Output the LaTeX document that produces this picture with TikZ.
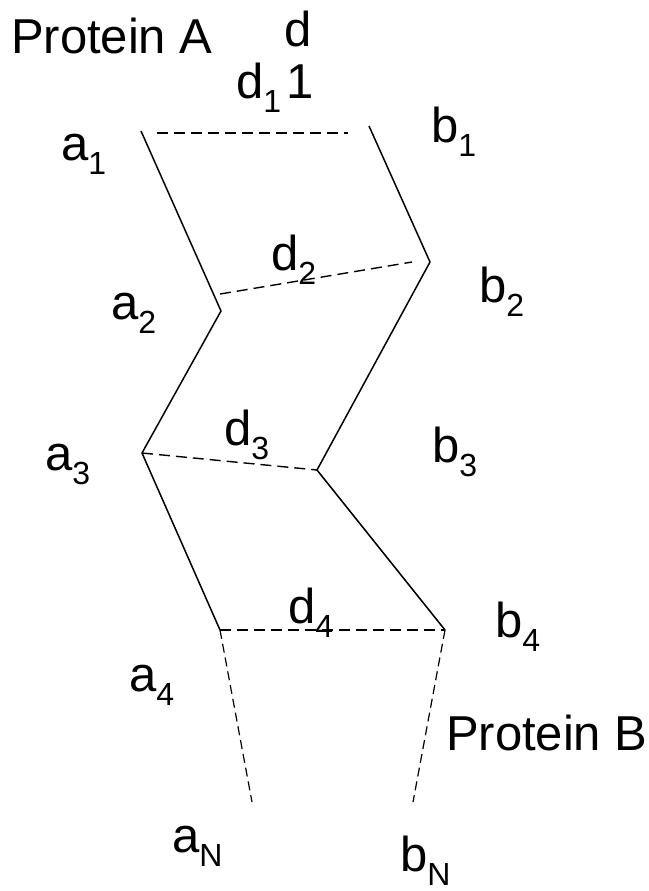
\documentclass[tikz,border=0pt]{standalone}
\usepackage{fontspec}
\setmainfont{Liberation Sans}
\newcommand{\mainsz}{\fontsize{49}{52}\selectfont}
\newcommand{\subsz}{\fontsize{32}{34}\selectfont}
\newcommand{\lbl}[2]{\mainsz #1\raisebox{-14pt}{\subsz #2}}
\begin{document}
\begin{tikzpicture}[x=1pt,y=-1pt,
  solidline/.style={line width=1.5pt},
  dline/.style={line width=1.4pt, dash pattern=on 11pt off 6pt},
  dline2/.style={line width=1.2pt, dash pattern=on 9pt off 5pt},
  lab/.style={anchor=base west, inner sep=0pt, outer sep=0pt, font=\mainsz}]
\useasboundingbox (0,0) rectangle (648,891);
% vertices
\coordinate (a1) at (141,131);
\coordinate (a2) at (221,311);
\coordinate (a3) at (142,453);
\coordinate (a4) at (220,630);
\coordinate (aN) at (252,802);
\coordinate (b1) at (369,126);
\coordinate (b2) at (430,262);
\coordinate (b3) at (317,470);
\coordinate (b4) at (445,630);
\coordinate (bN) at (413,802);
\coordinate (d1s) at (157,133);
\coordinate (d1e) at (348,133);
\coordinate (d2s) at (220,294);
\coordinate (d2e) at (412,262);
% chains
\draw[solidline] (a1) -- (a2) -- (a3) -- (a4);
\draw[solidline] (b1) -- (b2) -- (b3) -- (b4);
% distances
\draw[dline] (d1s) -- (d1e);
\draw[dline] (d2s) -- (d2e);
\draw[dline] (a3) -- (b3);
\draw[dline] (a4) -- (b4);
\draw[dline2] (a4) -- (aN);
\draw[dline2] (b4) -- (bN);
% labels
\node[lab] (pA) at (11,54) {Protein A};
\node[lab] (dtop) at (284,47) {d};
\node[lab] (ld1) at (236,98) {\lbl{d}{1}\hspace{5pt}1};
\node[lab] (la1) at (61,160) {\lbl{a}{1}};
\node[lab] (lb1) at (431,142) {\lbl{b}{1}};
\node[lab] (ld2) at (271,270) {\lbl{d}{2}};
\node[lab] (la2) at (111,319) {\lbl{a}{2}};
\node[lab] (lb2) at (479,302) {\lbl{b}{2}};
\node[lab] (ld3) at (224,445) {\lbl{d}{3}};
\node[lab] (la3) at (45,470) {\lbl{a}{3}};
\node[lab] (lb3) at (432,462) {\lbl{b}{3}};
\node[lab] (ld4) at (288,623) {\lbl{d}{4}};
\node[lab] (lb4) at (495,637) {\lbl{b}{4}};
\node[lab] (la4) at (129,691) {\lbl{a}{4}};
\node[lab] (pB) at (446,750) {Protein B};
\node[lab] (laN) at (172,852) {\lbl{a}{N}};
\node[lab] (lbN) at (400,871) {\lbl{b}{N}};
\end{tikzpicture}
\end{document}
